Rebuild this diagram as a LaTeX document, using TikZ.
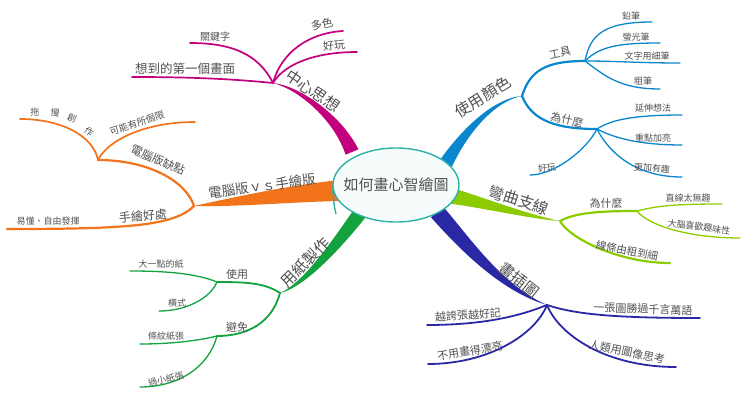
\documentclass[tikz,border=0pt]{standalone}
\usepackage{fontspec}
\usepackage{xcolor}
\usepackage{tikz}
\newfontfamily\cjk{Noto Sans CJK TC}
\definecolor{MapIdea}{HTML}{C2007E}
\definecolor{MapColour}{HTML}{0A86CC}
\definecolor{MapCurve}{HTML}{8CCB00}
\definecolor{MapPicture}{HTML}{2A28A4}
\definecolor{MapPaper}{HTML}{14A23E}
\definecolor{MapHand}{HTML}{F2731A}
\definecolor{MapHubLine}{HTML}{2CB3A6}
\definecolor{MapHubFill}{HTML}{F6FCFC}
\definecolor{MapText}{HTML}{505050}

\begin{document}
\begin{tikzpicture}[
  x=1pt, y=-1pt,
  every node/.style={text=MapText, inner sep=0.5pt},
  leaftext/.style={font=\cjk\fontsize{9}{9}\selectfont},
  twigtext/.style={font=\cjk\fontsize{11}{11}\selectfont},
  limbtext/.style={font=\cjk\fontsize{15.5}{15.5}\selectfont},
  limb/.style={line width=2.2pt, line cap=round},
  leafline/.style={line width=1.3pt, line cap=round},
  hubring/.style={draw=MapHubLine, fill=MapHubFill, line width=1.4pt},
]
\useasboundingbox (0,0) rectangle (750,404);

% ============ 中心思想 ============
\coordinate (jIdea) at (273,83);
\coordinate (mIdeaA) at (345.6,154.7);
\coordinate (mIdeaB) at (358.4,149.3);
\fill[MapIdea] (mIdeaA) .. controls (334,120) and (299.6,90) .. (jIdea)
  .. controls (300.4,86) and (342,116) .. (mIdeaB) -- cycle;
\node[limbtext, rotate=-34] (tIdea) at (313,91) {中心思想};

\coordinate (eFirst) at (132,77);
\coordinate (eKey) at (190,43);
\coordinate (eMany) at (343,31);
\coordinate (eFunI) at (357,52);
\draw[leafline, MapIdea, line width=1.7pt] (jIdea) .. controls +(-40,-4) and +(60,0) .. (eFirst);
\draw[leafline, MapIdea, line width=1.7pt] (jIdea) .. controls +(-15,-30) and +(40,0) .. (eKey);
\draw[leafline, MapIdea, line width=1.7pt] (jIdea) .. controls +(8,-30) and +(-35,2) .. (eMany);
\draw[leafline, MapIdea, line width=1.7pt] (jIdea) .. controls +(12,-20) and +(-40,0) .. (eFunI);
\node[font=\cjk\fontsize{12.5}{12.5}\selectfont] (tFirst) at (185,69) {想到的第一個畫面};
\node[font=\cjk\fontsize{10}{10}\selectfont] (tKey) at (215,37) {關鍵字};
\node[twigtext, rotate=12] (tMany) at (322,24) {多色};
\node[twigtext, rotate=5] (tFunI) at (334,45) {好玩};

% ============ 使用顏色 ============
\coordinate (jColour) at (522,96);
\coordinate (mColourA) at (438.9,161.6);
\coordinate (mColourB) at (451.1,168.4);
\fill[MapColour] (mColourA) .. controls (458.5,133) and (492,98) .. (jColour)
  .. controls (492,102) and (465.5,137) .. (mColourB) -- cycle;
\node[limbtext, rotate=32] (tColour) at (483,97) {使用顏色};

\coordinate (jTool) at (585,61);
\coordinate (jWhyC) at (597,129);
\draw[limb, MapColour] (jColour) .. controls +(8,-25) and +(-40,0) .. (jTool);
\draw[limb, MapColour] (jColour) .. controls +(10,25) and +(-40,0) .. (jWhyC);
\node[twigtext, rotate=12] (tTool) at (560,53) {工具};
\node[twigtext, rotate=-12] (tWhyC) at (567,120) {為什麼};

\coordinate (ePencil) at (652,22);
\coordinate (eMarker) at (660,43);
\coordinate (eFine) at (680,63);
\coordinate (eThick) at (660,89);
\draw[leafline, MapColour] (jTool) .. controls +(5,-25) and +(-50,0) .. (ePencil);
\draw[leafline, MapColour] (jTool) .. controls +(15,-15) and +(-40,0) .. (eMarker);
\draw[leafline, MapColour] (jTool) .. controls +(30,0) and +(-40,0) .. (eFine);
\draw[leafline, MapColour] (jTool) .. controls +(20,15) and +(-40,0) .. (eThick);
\node[leaftext] (tPencil) at (631,16) {鉛筆};
\node[leaftext] (tMarker) at (636,37) {螢光筆};
\node[leaftext] (tFine) at (647,56) {文字用細筆};
\node[leaftext] (tThick) at (643,81) {粗筆};

\coordinate (eExtend) at (682,115);
\coordinate (eStress) at (682,145);
\coordinate (eMoreFun) at (682,177);
\coordinate (eFunC) at (530,175);
\draw[leafline, MapColour] (jWhyC) .. controls +(15,-10) and +(-45,0) .. (eExtend);
\draw[leafline, MapColour] (jWhyC) .. controls +(15,8) and +(-45,0) .. (eStress);
\draw[leafline, MapColour] (jWhyC) .. controls +(10,20) and +(-50,0) .. (eMoreFun);
\draw[leafline, MapColour] (jWhyC) .. controls +(-10,20) and +(25,0) .. (eFunC);
\node[leaftext] (tExtend) at (653,108) {延伸想法};
\node[leaftext] (tStress) at (653,138) {重點加亮};
\node[leaftext, rotate=-4] (tMoreFun) at (652,168) {更加有趣};
\node[leaftext, rotate=8] (tFunC) at (547,168) {好玩};

% ============ 彎曲支線 ============
\coordinate (jCurve) at (560,221);
\coordinate (mCurveA) at (453.7,188.2);
\coordinate (mCurveB) at (450.3,203.8);
\fill[MapCurve] (mCurveA) .. controls (481,197) and (530,215) .. (jCurve)
  .. controls (530,219) and (479,207) .. (mCurveB) -- cycle;
\node[limbtext, rotate=-18] (tCurve) at (519,200) {彎曲支線};

\coordinate (jWhyK) at (637,211);
\coordinate (eThin) at (670,263);
\draw[limb, MapCurve] (jCurve) .. controls +(15,-8) and +(-40,0) .. (jWhyK);
\draw[limb, MapCurve] (jCurve) .. controls +(10,18) and +(-50,0) .. (eThin);
\node[twigtext] (tWhyK) at (606,203) {為什麼};
\node[font=\cjk\fontsize{10.5}{10.5}\selectfont, rotate=-11] (tThin) at (627,251) {線條由粗到細};

\coordinate (eDull) at (722,204);
\coordinate (eBrain) at (740,238);
\draw[leafline, MapCurve] (jWhyK) .. controls +(20,-5) and +(-50,0) .. (eDull);
\draw[leafline, MapCurve] (jWhyK) .. controls +(12,15) and +(-50,0) .. (eBrain);
\node[leaftext] (tDull) at (688,198) {直線太無趣};
\node[leaftext, rotate=-7] (tBrain) at (699,227) {大腦喜歡趣味性};

% ============ 畫插圖 ============
\coordinate (jPic) at (547,305);
\coordinate (mPicA) at (443,206.6);
\coordinate (mPicB) at (431,217.4);
\fill[MapPicture] (mPicA) .. controls (467.6,234.4) and (501,285) .. (jPic)
  .. controls (499,291) and (456.4,245.6) .. (mPicB) -- cycle;
\node[limbtext, rotate=-38] (tPic) at (519,280) {畫插圖};

\coordinate (eWorth) at (700,318);
\coordinate (eThink) at (676,367);
\coordinate (eBold) at (427,325);
\coordinate (ePretty) at (428,364);
\draw[leafline, MapPicture, line width=1.8pt] (jPic) .. controls +(30,10) and +(-80,0) .. (eWorth);
\draw[leafline, MapPicture, line width=1.8pt] (jPic) .. controls +(12,30) and +(-70,0) .. (eThink);
\draw[leafline, MapPicture, line width=1.8pt] (jPic) .. controls +(-25,10) and +(60,0) .. (eBold);
\draw[leafline, MapPicture, line width=1.8pt] (jPic) .. controls +(-12,30) and +(60,0) .. (ePretty);
\node[twigtext, rotate=-2] (tWorth) at (643,309) {一張圖勝過千言萬語};
\node[twigtext, rotate=-12] (tThink) at (627,352) {人類用圖像思考};
\node[twigtext, rotate=4] (tBold) at (468,315) {越誇張越好記};
\node[twigtext, rotate=9] (tPretty) at (470,351) {不用畫得漂亮};

% ============ 用紙製作 ============
\coordinate (jPaper) at (280,293);
\coordinate (mPaperA) at (365.6,217.2);
\coordinate (mPaperB) at (354.4,208.8);
\fill[MapPaper] (mPaperA) .. controls (344.8,243.6) and (305.8,287.4) .. (jPaper)
  .. controls (304.2,282.6) and (335.2,236.4) .. (mPaperB) -- cycle;
\node[limbtext, rotate=45] (tPaper) at (305,262) {用紙製作};

\coordinate (jUse) at (217,282);
\coordinate (jAvoid) at (217,336);
\draw[limb, MapPaper, line width=1.8pt] (jPaper) .. controls +(-15,-10) and +(30,0) .. (jUse);
\draw[limb, MapPaper, line width=1.8pt] (jPaper) .. controls +(-8,30) and +(30,0) .. (jAvoid);
\node[twigtext] (tUse) at (237,274) {使用};
\node[twigtext] (tAvoid) at (237,327) {避免};

\coordinate (eBig) at (130,271);
\coordinate (eWide) at (159,311);
\coordinate (eStripe) at (140,344);
\coordinate (eSmall) at (140,387);
\draw[leafline, MapPaper] (jUse) .. controls +(-20,-8) and +(40,0) .. (eBig);
\draw[leafline, MapPaper] (jUse) .. controls +(-8,18) and +(25,0) .. (eWide);
\draw[leafline, MapPaper] (jAvoid) .. controls +(-20,5) and +(30,0) .. (eStripe);
\draw[leafline, MapPaper] (jAvoid) .. controls +(-8,30) and +(40,0) .. (eSmall);
\node[leaftext] (tBig) at (161,264) {大一點的紙};
\node[leaftext] (tWide) at (177,303) {橫式};
\node[leaftext] (tStripe) at (166,336) {條紋紙張};
\node[leaftext, rotate=12] (tSmall) at (166,379) {過小紙張};

% ============ 電腦版ｖｓ手繪版 ============
\coordinate (jHand) at (194,206);
\coordinate (mHandA) at (340,180);
\coordinate (mHandB) at (340,201);
\fill[MapHand] (mHandA) .. controls (290,185) and (235,197) .. (jHand)
  .. controls (240,207) and (290,202) .. (mHandB) -- cycle;
\node[font=\cjk\fontsize{13.5}{13.5}\selectfont, rotate=8] (tHand) at (262,186) {電腦版ｖｓ手繪版};

\coordinate (jCons) at (98,160);
\coordinate (eHandEnd) at (7,229);
\draw[limb, MapHand] (jHand) .. controls +(-8,-25) and +(50,0) .. (jCons);
\draw[limb, MapHand] (jHand) .. controls +(-20,20) and +(120,0) .. (eHandEnd);
\node[font=\cjk\fontsize{11.5}{11.5}\selectfont, rotate=-23] (tCons) at (158,160) {電腦版缺點};
\node[font=\cjk\fontsize{12}{12}\selectfont, rotate=5] (tPros) at (143,216) {手繪好處};
\node[leaftext] (tEasy) at (48,221) {易懂、自由發揮};

\coordinate (eSlow) at (20,119);
\coordinate (eLimit) at (195,122);
\draw[leafline, MapHand, line width=1.7pt] (jCons) .. controls +(-5,-25) and +(40,0) .. (eSlow);
\draw[leafline, MapHand, line width=1.7pt] (jCons) .. controls +(10,-20) and +(-50,0) .. (eLimit);
\node[leaftext] (tSlowA) at (35,112) {拖};
\node[leaftext, rotate=-8] (tSlowB) at (55,113) {慢};
\node[leaftext, rotate=-22] (tSlowC) at (72,118) {創};
\node[leaftext, rotate=-40] (tSlowD) at (89,132) {作};
\node[font=\cjk\fontsize{9.5}{9.5}\selectfont, rotate=18] (tLimit) at (137,123) {可能有所侷限};

% ============ hub ============
\coordinate (hubC) at (396,185);
\filldraw[hubring] (hubC) ellipse [x radius=63, y radius=37];
\draw[MapHubLine, line width=1.4pt] (333,186) .. controls (333,198) and (334,206) .. (336,214);
\node[font=\cjk\fontsize{15}{15}\selectfont] (hub) at (hubC) {如何畫心智繪圖};

\end{tikzpicture}
\end{document}
